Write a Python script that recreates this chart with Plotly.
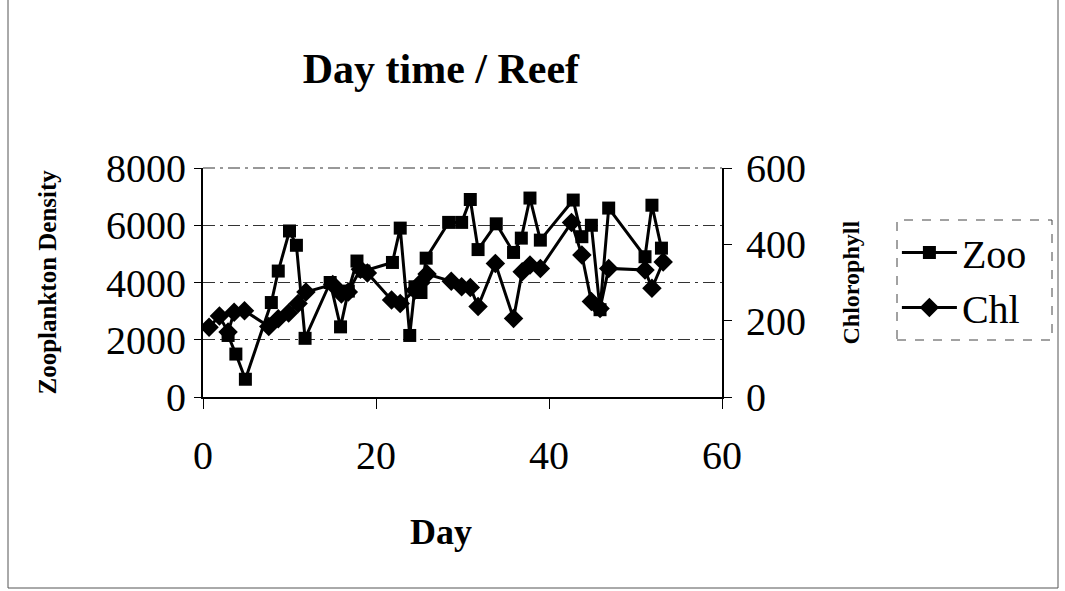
import plotly.graph_objects as go

# ---- data ----
zoo_day = [2.9, 3.8, 4.9, 7.9, 8.7, 10.0, 10.8, 11.8, 14.7, 15.9, 16.8, 17.8, 18.6,
           21.9, 22.8, 23.9, 24.5, 25.2, 25.8, 28.4, 29.9, 30.9, 31.8, 33.9, 35.9,
           36.8, 37.8, 39.0, 42.8, 43.8, 44.9, 45.9, 46.9, 51.1, 51.9, 53.0]
zoo_density = [2150, 1500, 620, 3300, 4400, 5800, 5300, 2050, 4000, 2450, 3700, 4750, 4400,
               4700, 5900, 2150, 3850, 3650, 4850, 6100, 6100, 6900, 5150, 6050, 5050,
               5550, 6950, 5480, 6880, 5600, 6000, 3050, 6600, 4900, 6700, 5200]

chl_day = [0.7, 1.9, 2.9, 3.6, 4.8, 7.6, 8.7, 9.9, 11.0, 11.9, 15.0, 16.0, 16.8, 18.2, 19.0,
           21.8, 22.8, 24.5, 25.2, 25.9, 28.7, 29.9, 30.9, 31.8, 33.8, 35.9, 36.9, 37.8,
           39.0, 42.6, 43.8, 44.9, 45.9, 46.9, 51.1, 51.9, 53.2]
chl_value = [183, 212, 170, 222, 226, 185, 205, 220, 245, 275, 295, 270, 275, 335, 325,
             254, 245, 280, 300, 322, 303, 289, 287, 237, 350, 206, 328, 346,
             337, 457, 372, 250, 232, 337, 333, 285, 354]

x_ticks = [0, 20, 40, 60]
zoo_ticks = [0, 2000, 4000, 6000, 8000]
chl_ticks = [0, 200, 400, 600]

FONT = "Liberation Serif, Times New Roman, serif"

fig = go.Figure()
fig.add_trace(go.Scatter(
    x=zoo_day, y=zoo_density, name="Zoo", mode="lines+markers",
    line=dict(color="black", width=3),
    marker=dict(symbol="square", size=13, color="black"),
    yaxis="y"))
fig.add_trace(go.Scatter(
    x=chl_day, y=chl_value, name="Chl", mode="lines+markers",
    line=dict(color="black", width=3),
    marker=dict(symbol="diamond", size=15, color="black"),
    yaxis="y2"))

grid_dash = "12px,5px,3px,5px"

fig.update_layout(
    width=1065, height=591,
    margin=dict(l=203, r=343, t=168, b=194),
    paper_bgcolor="white", plot_bgcolor="white",
    font=dict(family=FONT, color="black", size=40),
    title=dict(text="<b>Day time / Reef</b>", font=dict(size=42, family=FONT),
               x=0.414, xref="container", xanchor="center",
               y=1 - 68 / 591, yref="container", yanchor="middle"),
    xaxis=dict(range=[0, 60], tickvals=x_ticks, showgrid=False, zeroline=False,
               showline=True, linecolor="black", linewidth=1.5,
               ticks="outside", ticklen=10, tickcolor="black",
               tickfont=dict(size=40), ticklabelstandoff=12),
    yaxis=dict(range=[0, 8000], tickvals=zoo_ticks, showgrid=True,
               gridcolor="#333333", gridwidth=1, griddash=grid_dash,
               zeroline=False, showline=True, linecolor="black", linewidth=2,
               ticks="outside", ticklen=7, tickcolor="black",
               tickfont=dict(size=40)),
    yaxis2=dict(range=[0, 600], tickvals=chl_ticks, overlaying="y", side="right",
                showgrid=False, zeroline=False, showline=True, linecolor="black",
                linewidth=2, ticks="outside", ticklen=8, tickcolor="black",
                tickfont=dict(size=40), ticklabelstandoff=6),
    showlegend=True,
    legend=dict(x=1.337, y=0.773, xanchor="left", yanchor="top",
                bgcolor="rgba(0,0,0,0)", borderwidth=0,
                font=dict(size=40, family=FONT), itemwidth=55,
                tracegroupgap=0),
)

# axis titles
fig.add_annotation(text="<b>Zooplankton Density</b>", textangle=-90,
                   xref="paper", yref="paper", x=(47 - 203) / 519, y=0.5,
                   xanchor="center", yanchor="middle", showarrow=False,
                   font=dict(size=25, family=FONT))
fig.add_annotation(text="<b>Chlorophyll</b>", textangle=-90,
                   xref="paper", yref="paper", x=(850 - 203) / 519, y=0.5,
                   xanchor="center", yanchor="middle", showarrow=False,
                   font=dict(size=24, family=FONT))
fig.add_annotation(text="<b>Day</b>", xref="paper", yref="paper",
                   x=(441 - 203) / 519, y=(397 - 532) / 229,
                   xanchor="center", yanchor="middle", showarrow=False,
                   font=dict(size=36, family=FONT))

# dashed top border of the plot area
fig.add_shape(type="line", xref="paper", yref="paper", x0=0, x1=1, y0=1, y1=1,
              line=dict(color="#333333", width=1, dash=grid_dash))
# legend frame (dashed) and outer page border
fig.add_shape(type="rect", xref="paper", yref="paper",
              x0=(897 - 203) / 519, x1=(1052 - 203) / 519,
              y0=(397 - 340) / 229, y1=(397 - 220) / 229,
              line=dict(color="#444444", width=1, dash="dash"))
fig.add_shape(type="rect", xref="paper", yref="paper",
              x0=(8 - 203) / 519, x1=(1058 - 203) / 519,
              y0=(397 - 588) / 229, y1=(397 + 8) / 229,
              line=dict(color="#555555", width=1))

fig.write_html("out.html")
